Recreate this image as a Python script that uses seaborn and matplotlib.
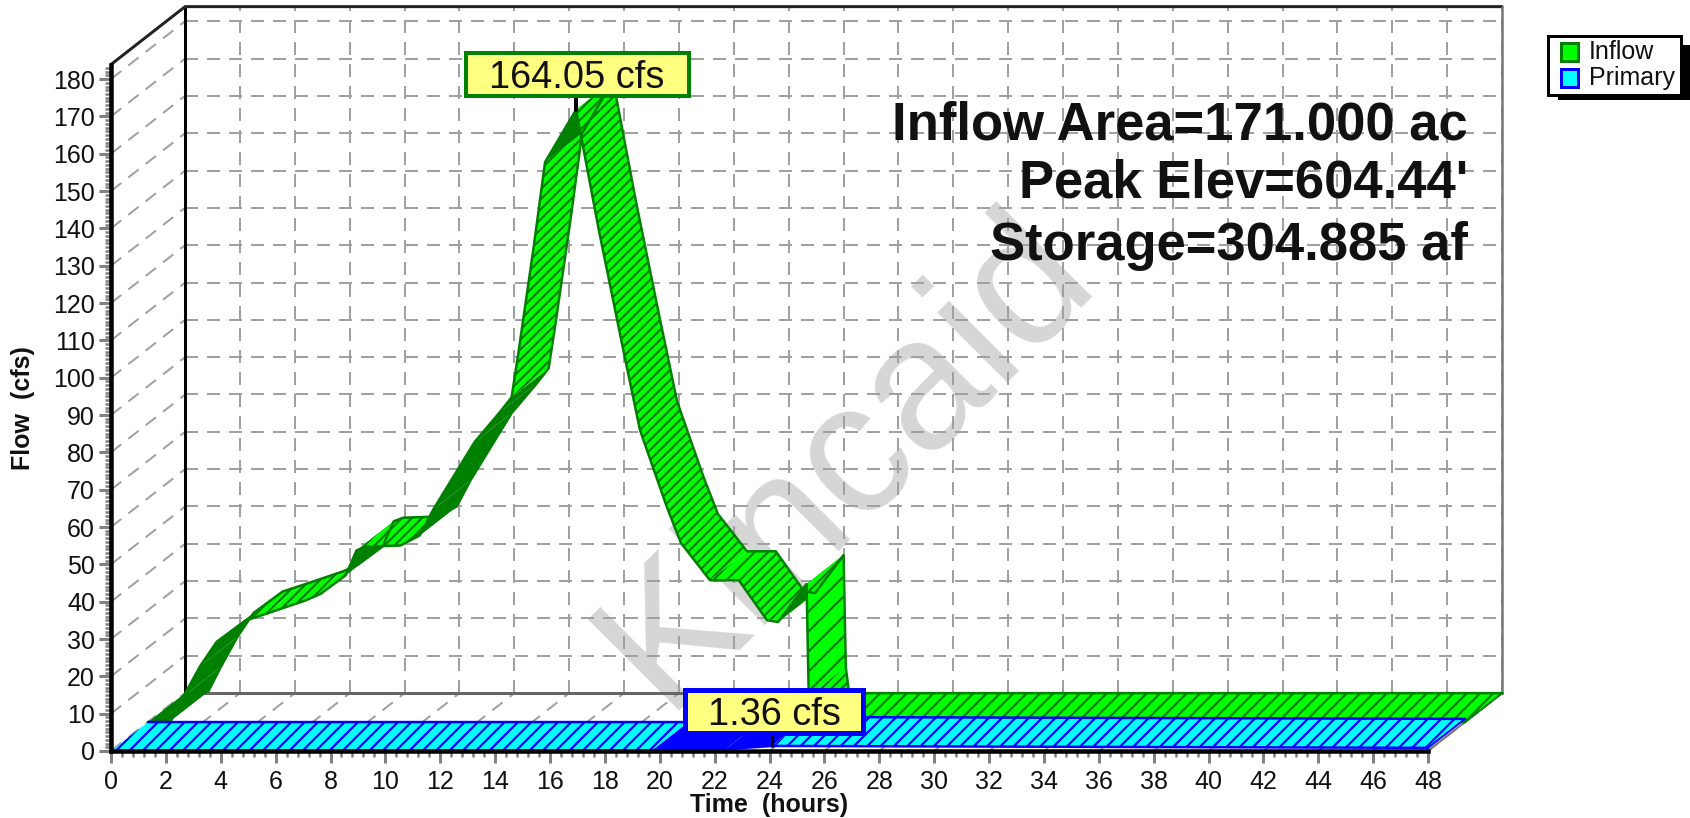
"""Hydrograph 3D-look: Inflow / Primary ribbons drawn in a flat axes with depth offsets."""
import numpy as np
import matplotlib
matplotlib.use('Agg')
import matplotlib.pyplot as plt
from matplotlib.patches import Rectangle
import seaborn as sns

sns.set_theme(style='white')
plt.rcParams['font.family'] = ['Liberation Sans', 'DejaVu Sans']

# data
inflow_hours = [0, 0.85, 1.3, 1.9, 2.5, 3.55, 4.3, 5.75, 6.3, 7.2, 7.6, 7.95, 9.2, 9.9, 10.4, 11.9,
                12.82, 13.25, 13.5, 14.05, 14.47, 15.6, 16.43, 17.27, 17.93, 18.4, 18.91, 19.42,
                20.48, 21.53, 22.56, 22.96, 24.0, 24.08, 24.2, 48]
inflow_cfs = [0, 0.5, 7, 15, 21.5, 27.2, 29, 32.6, 34.4, 39.3, 46, 47, 47.3, 50, 57, 75,
              83, 87, 99, 127, 150, 164.05, 131.8, 101.5, 78.2, 68.3, 57.6, 48,
              38, 38, 27.3, 26.8, 37, 7, 0, 0]
primary_hours = [0, 19.7, 22.4, 24.1, 36, 48]
primary_cfs = [0, 0, 0.5, 1.36, 1.1, 0.85]
y_ticks = list(range(0, 181, 10))
x_ticks = list(range(0, 49, 2))
notes = ['Inflow Area=171.000 ac', "Peak Elev=604.44'", 'Storage=304.885 af']
series_names = ['Inflow', 'Primary']

W, H = 1690, 818
DPI = 120
DX, DY = 2.7, 15.5   # full depth of the box, in hours and cfs
TOP = 183.9


def px(n):
    return n * 72 / DPI


def fig_box(fig, x0, y0, x1, y1, z=5, **kw):
    r = Rectangle((x0 / W, 1 - y1 / H), (x1 - x0) / W, (y1 - y0) / H,
                  transform=fig.transFigure, zorder=z, **kw)
    fig.add_artist(r)


def ribbon(ax, t, v, d0, d1, face, dark, z, steep=False):
    for i in range(len(t) - 1):
        xs = [t[i] + d0 * DX, t[i + 1] + d0 * DX, t[i + 1] + d1 * DX, t[i] + d1 * DX]
        ys = [v[i] + d0 * DY, v[i + 1] + d0 * DY, v[i + 1] + d1 * DY, v[i] + d1 * DY]
        slope = (v[i + 1] - v[i]) / (t[i + 1] - t[i])
        col, hatch = face, '////'
        if abs(slope) < 0.05:
            hatch = '///'
        if steep:
            if 0.4 < slope < 1 or 3.5 < slope < 20:
                col, hatch = dark, None
            elif slope < -100:
                hatch = '//'
        elif slope > 0.05:
            col, hatch = dark, None
        ax.fill(xs, ys, facecolor=col, edgecolor=dark, hatch=hatch, linewidth=0,
                clip_on=False, zorder=z)
    t, v = np.array(t), np.array(v)
    for d in (d0, d1):
        sns.lineplot(x=t + d * DX, y=v + d * DY, ax=ax, color=dark, linewidth=px(2.5),
                     estimator=None, sort=False, errorbar=None, legend=False,
                     clip_on=False, zorder=z + 0.1)
    ax.plot([t[-1] + d0 * DX, t[-1] + d1 * DX], [v[-1] + d0 * DY, v[-1] + d1 * DY],
            color=dark, lw=px(2), clip_on=False, zorder=z + 0.1)


plt.rcParams['hatch.linewidth'] = px(2.2)
fig = plt.figure(figsize=(W / DPI, H / DPI), dpi=DPI)
ax = fig.add_axes([111 / W, (H - 751) / H, 1317 / W, 686.5 / H])
ax.patch.set_alpha(0)

# watermark goes under everything
fig.text(847 / W, 1 - 459 / H, 'Kincaid', fontsize=px(187), color='#D6D6D6', rotation=45,
         ha='center', va='center', rotation_mode='anchor', zorder=-1)

# walls
grid_kw = dict(color='#A0A0A0', lw=px(2), ls=(0, (6.5, 4.5)), clip_on=False, zorder=1)
for h in x_ticks:
    ax.plot([h + DX, h + DX], [DY, TOP + DY], **grid_kw)
    ax.plot([h, h + DX], [0, DY], **grid_kw)
for c in y_ticks:
    ax.plot([DX, 48 + DX], [c + DY, c + DY], **grid_kw)
    ax.plot([0, DX], [c, c + DY], **grid_kw)
ax.plot([DX, DX], [DY, TOP + DY], color='black', lw=px(3), clip_on=False, zorder=2)
ax.plot([0, DX, 48 + DX], [TOP, TOP + DY, TOP + DY], color='#222222', lw=px(3), clip_on=False, zorder=2)
ax.plot([48 + DX, 48 + DX], [DY, TOP + DY], color='#777777', lw=px(2.5), clip_on=False, zorder=2)
ax.plot([DX, 48 + DX], [DY, DY], color='#666666', lw=px(3), clip_on=False, zorder=2)
ax.plot([48, 48 + DX], [0, DY], color='#777777', lw=px(2), clip_on=False, zorder=2)

# ribbons, back one first
ribbon(ax, inflow_hours, inflow_cfs, 0.5, 1.0, '#00FF00', '#008000', 3, steep=True)
ribbon(ax, primary_hours, primary_cfs, 0.0, 0.5, '#00FFFF', '#0000FF', 4)

ax.set_xlim(0, 48)
ax.set_ylim(0, TOP)
ax.set_xticks(x_ticks)
ax.set_yticks(y_ticks)
ax.set_xticks(np.arange(0, 48.01, 0.4), minor=True)
ax.set_yticks(np.arange(0, 184, 1), minor=True)
ax.tick_params(axis='both', which='major', length=px(12), width=px(3), color='#808080',
               labelsize=px(25), labelcolor='#111111', pad=px(4), bottom=True, left=True)
ax.tick_params(axis='x', which='major', pad=px(7))
ax.tick_params(axis='both', which='minor', length=px(6), width=px(2.5), color='#808080',
               bottom=True, left=True)
for name, spine in ax.spines.items():
    spine.set_visible(name in ('left', 'bottom'))
    spine.set_color('black')
    spine.set_linewidth(px(4.5))
    spine.set_zorder(6)
ax.set_xlabel('Time  (hours)', fontsize=px(25), fontweight='bold', color='#111111', va='center')
ax.set_ylabel('Flow  (cfs)', fontsize=px(25), fontweight='bold', color='#111111', va='center')
ax.xaxis.set_label_coords(0.5, -54 / 686.5)
ax.yaxis.set_label_coords(-88 / 1317, 0.5)

# peak stems and labels
ax.plot([15.6 + DX / 2] * 2, [164.05 + DY / 2, 175], color='black', lw=px(4), clip_on=False, zorder=7)
ax.plot([24.1, 24.1], [1.36, 4.5], color='black', lw=px(3), clip_on=False, zorder=7)
fig_box(fig, 466, 53, 689, 96, facecolor='#FFFF80', edgecolor='#008000', linewidth=px(4))
fig.text(577 / W, 1 - 78 / H, '164.05 cfs', fontsize=px(38), color='#111111', ha='center',
         va='center', zorder=8)
fig_box(fig, 685, 690, 863, 733, facecolor='#FFFF80', edgecolor='#0000FF', linewidth=px(5))
fig.text(774 / W, 1 - 715 / H, '1.36 cfs', fontsize=px(38), color='#111111', ha='center',
         va='center', zorder=8)

# area / elevation notes
for note, y in zip(notes, [125, 184, 246]):
    fig.text(1468 / W, 1 - y / H, note, fontsize=px(52.6), fontweight='bold', color='#111111',
             ha='right', va='center', zorder=8)

# legend with hard shadow
fig_box(fig, 1558, 45, 1690, 100, facecolor='black', edgecolor='none')
fig_box(fig, 1548, 36, 1681, 95, z=6, facecolor='white', edgecolor='black', linewidth=px(3))
swatches = [('#00FF00', '#008000', 52), ('#00FFFF', '#0000FF', 78)]
for name, (col, edge, y) in zip(series_names, swatches):
    fig_box(fig, 1561, y - 9, 1578, y + 9, z=7, facecolor=col, edgecolor=edge, linewidth=px(3))
    fig.text(1589 / W, 1 - y / H, name, fontsize=px(25), color='#111111', va='center', zorder=8)

fig.savefig('out.png', dpi=DPI, facecolor='white')
